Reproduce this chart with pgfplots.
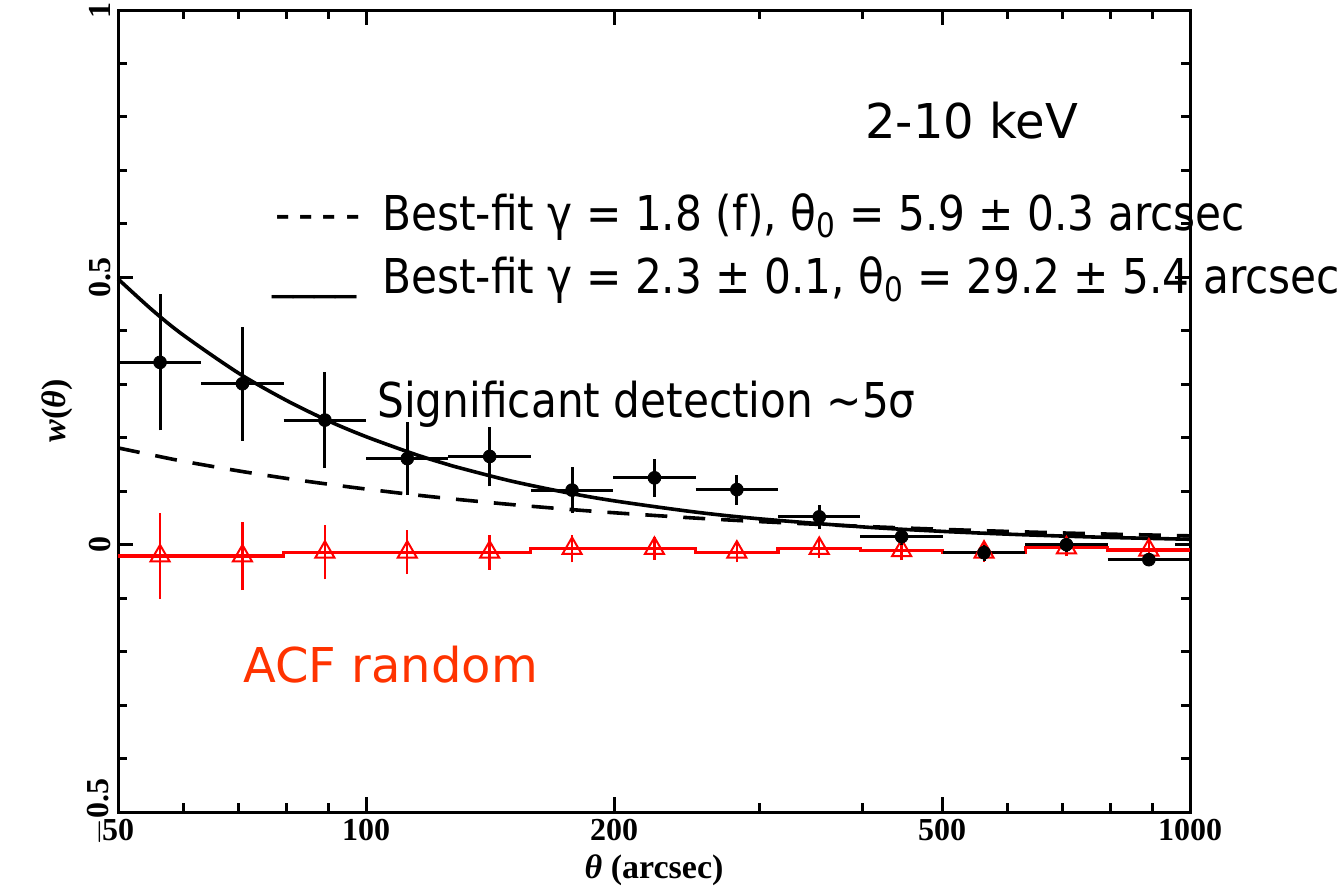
\documentclass[border=0pt]{standalone}
\usepackage{pgfplots}
\pgfplotsset{compat=1.18}
\usepackage{fontspec}
\setmainfont{Liberation Serif}
\newfontfamily\verd{DejaVu Sans}
\newfontfamily\comic[FakeStretch=0.88]{DejaVu Sans}
\definecolor{acf}{HTML}{FF3300}

\begin{document}
\begin{tikzpicture}
\begin{axis}[
  scale only axis, width=536pt, height=401pt,
  xmode=log, xmin=50, xmax=1000, ymin=-0.5, ymax=1,
  axis line style={line width=1.5pt},
  tick style={line width=1.5pt, black},
  tick align=inside,
  major tick length=7.5pt, minor tick length=4.5pt,
  xtick={50,100,200,500,1000}, xticklabels={50,100,200,500,1000},
  minor xtick={60,70,80,90,300,400,600,700,800,900},
  ytick={-0.5,0,0.5,1}, yticklabels={{$-$0.5},0,0.5,1},
  minor ytick={-0.4,-0.3,-0.2,-0.1,0.1,0.2,0.3,0.4,0.6,0.7,0.8,0.9},
  tick label style={font=\fontsize{16}{16}\selectfont\bfseries},
  yticklabel style={rotate=90},
  label style={font=\fontsize{17}{17}\selectfont\bfseries},
  xlabel={\textit{θ} (arcsec)},
  ylabel={\textit{w}(\textit{θ})},
  clip=false,
  ebk/.style={black, line width=1.5pt, forget plot},
  erd/.style={red, line width=1.2pt, forget plot},
]
\addplot[black, line width=1.8pt, smooth] coordinates {
(50,0.497) (55,0.439) (60,0.392) (70,0.321) (80,0.270) (90,0.2315) (100,0.202)
(115,0.1683) (125,0.151) (130,0.1435) (150,0.119) (175,0.0975) (200,0.082)
(250,0.0613) (300,0.0484) (400,0.0333) (500,0.0249) (600,0.0197) (700,0.0161)
(800,0.0135) (1000,0.0101)};
\addplot[black, line width=1.8pt, smooth, dash pattern=on 11pt off 8pt] coordinates {
(50,0.181) (55,0.1677) (60,0.156) (70,0.138) (80,0.124) (90,0.1131) (100,0.104)
(115,0.0929) (125,0.0869) (130,0.0842) (150,0.0751) (175,0.0664) (200,0.0597)
(250,0.0499) (300,0.0432) (400,0.0343) (500,0.0287) (600,0.0248) (700,0.0219)
(800,0.0197) (1000,0.0165)};
\addplot[red, line width=1.6pt, const plot] coordinates {
(50,-0.021) (63.10,-0.021) (79.43,-0.014) (100,-0.014) (125.89,-0.014)
(158.49,-0.007) (199.53,-0.007) (251.19,-0.014) (316.23,-0.007) (398.11,-0.011)
(501.19,-0.014) (630.96,-0.006) (794.33,-0.010) (1000,-0.010)};
\addplot[erd] coordinates {(56.23,-0.102) (56.23,0.060)};
\addplot[erd] coordinates {(70.79,-0.085) (70.79,0.043)};
\addplot[erd] coordinates {(89.13,-0.065) (89.13,0.037)};
\addplot[erd] coordinates {(112.20,-0.055) (112.20,0.027)};
\addplot[erd] coordinates {(141.25,-0.047) (141.25,0.019)};
\addplot[erd] coordinates {(177.83,-0.033) (177.83,0.019)};
\addplot[erd] coordinates {(223.87,-0.028) (223.87,0.014)};
\addplot[erd] coordinates {(281.84,-0.033) (281.84,0.005)};
\addplot[erd] coordinates {(354.81,-0.024) (354.81,0.010)};
\addplot[erd] coordinates {(446.68,-0.029) (446.68,0.007)};
\addplot[erd] coordinates {(562.34,-0.032) (562.34,0.004)};
\addplot[erd] coordinates {(707.95,-0.022) (707.95,0.010)};
\addplot[erd] coordinates {(891.25,-0.026) (891.25,0.006)};
\addplot[red, only marks, mark=triangle, mark size=5.5pt,
  mark options={line width=1pt, fill=none, solid}] coordinates {
(56.23,-0.021) (70.79,-0.021) (89.13,-0.014) (112.20,-0.014) (141.25,-0.014)
(177.83,-0.007) (223.87,-0.007) (281.84,-0.014) (354.81,-0.007) (446.68,-0.011)
(562.34,-0.014) (707.95,-0.006) (891.25,-0.010)};
\addplot[ebk] coordinates {(56.23,0.214) (56.23,0.468)};
\addplot[ebk] coordinates {(70.79,0.194) (70.79,0.408)};
\addplot[ebk] coordinates {(89.13,0.143) (89.13,0.323)};
\addplot[ebk] coordinates {(112.20,0.093) (112.20,0.229)};
\addplot[ebk] coordinates {(141.25,0.109) (141.25,0.221)};
\addplot[ebk] coordinates {(177.83,0.059) (177.83,0.145)};
\addplot[ebk] coordinates {(223.87,0.090) (223.87,0.160)};
\addplot[ebk] coordinates {(281.84,0.075) (281.84,0.131)};
\addplot[ebk] coordinates {(354.81,0.030) (354.81,0.074)};
\addplot[ebk] coordinates {(446.68,-0.001) (446.68,0.031)};
\addplot[ebk] coordinates {(562.34,-0.030) (562.34,0.000)};
\addplot[ebk] coordinates {(707.95,-0.013) (707.95,0.013)};
\addplot[ebk] coordinates {(891.25,-0.040) (891.25,-0.016)};
\addplot[ebk] coordinates {(50.12,0.341) (63.10,0.341)};
\addplot[ebk] coordinates {(63.10,0.301) (79.43,0.301)};
\addplot[ebk] coordinates {(79.43,0.233) (100,0.233)};
\addplot[ebk] coordinates {(100,0.161) (125.89,0.161)};
\addplot[ebk] coordinates {(125.89,0.165) (158.49,0.165)};
\addplot[ebk] coordinates {(158.49,0.102) (199.53,0.102)};
\addplot[ebk] coordinates {(199.53,0.125) (251.19,0.125)};
\addplot[ebk] coordinates {(251.19,0.103) (316.23,0.103)};
\addplot[ebk] coordinates {(316.23,0.052) (398.11,0.052)};
\addplot[ebk] coordinates {(398.11,0.015) (501.19,0.015)};
\addplot[ebk] coordinates {(501.19,-0.015) (630.96,-0.015)};
\addplot[ebk] coordinates {(630.96,0.000) (794.33,0.000)};
\addplot[ebk] coordinates {(794.33,-0.028) (1000,-0.028)};
\addplot[black, only marks, mark=*, mark size=3.2pt] coordinates {
(56.23,0.341) (70.79,0.301) (89.13,0.233) (112.20,0.161) (141.25,0.165)
(177.83,0.102) (223.87,0.125) (281.84,0.103) (354.81,0.052) (446.68,0.015)
(562.34,-0.015) (707.95,0.000) (891.25,-0.028)};
\coordinate (tA) at (rel axis cs:0.6968,0.8404);
\coordinate (tB) at (rel axis cs:0.1465,0.7257);
\coordinate (tC) at (rel axis cs:0.2463,0.7257);
\coordinate (tD) at (rel axis cs:0.1437,0.6459);
\coordinate (tE) at (rel axis cs:0.2463,0.6459);
\coordinate (tF) at (rel axis cs:0.2416,0.4925);
\coordinate (tG) at (rel axis cs:0.1166,0.1621);
\coordinate (bbSW) at (rel axis cs:-0.1101,-0.1047);
\coordinate (bbNE) at (rel axis cs:1.1427,1.0125);
\end{axis}
\node[anchor=base west, inner sep=0pt, font=\verd\fontsize{24}{28}\selectfont]
  at (tA) {2-10 keV};
\node[anchor=base west, inner sep=0pt, font=\comic\fontsize{24}{28}\selectfont]
  at (tB) {-\hspace{4pt}-\hspace{4pt}-\hspace{4pt}-};
\node[anchor=base west, inner sep=0pt, font=\comic\fontsize{24}{28}\selectfont]
  at (tC) {Best-fit γ = 1.8 (f), θ\textsubscript{0} = 5.9 ± 0.3 arcsec};
\node[anchor=base west, inner sep=0pt, font=\comic\fontsize{24}{28}\selectfont]
  at (tD) {\raisebox{3pt}{\_\_\_\_}};
\node[anchor=base west, inner sep=0pt, font=\comic\fontsize{24}{28}\selectfont]
  at (tE) {Best-fit γ = 2.3 ± 0.1, θ\textsubscript{0} = 29.2 ± 5.4 arcsec};
\node[anchor=base west, inner sep=0pt, font=\comic\fontsize{24}{28}\selectfont]
  at (tF) {Significant detection \textasciitilde5σ};
\node[anchor=base west, inner sep=0pt, text=acf, font=\verd\fontsize{24}{28}\selectfont]
  at (tG) {ACF random};
\pgfresetboundingbox
\path (bbSW) rectangle (bbNE);
\end{tikzpicture}
\end{document}
